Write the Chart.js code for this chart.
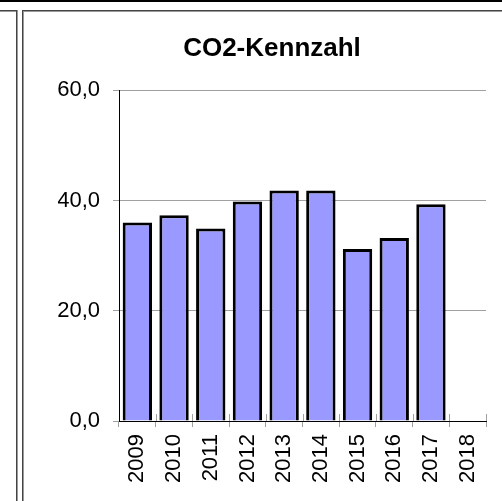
<!DOCTYPE html>
<html>
<head>
<meta charset="utf-8">
<script src="https://cdn.jsdelivr.net/npm/chart.js@4/dist/chart.umd.min.js"></script>
<style>
  html, body { margin: 0; padding: 0; background: #fff; overflow: hidden; width: 502px; height: 501px; }
  .ln { position: absolute; }
  #c { position: absolute; left: 24px; top: 12px; }
</style>
</head>
<body>
<!-- frame lines round the two panels -->
<div class="ln" style="left:0;top:0;width:502px;height:2px;background:#000"></div>
<div class="ln" style="left:0;top:10px;width:18px;height:1px;background:#444"></div>
<div class="ln" style="left:0;top:11px;width:17px;height:1px;background:#999"></div>
<div class="ln" style="left:16px;top:10px;width:1px;height:491px;background:#444"></div>
<div class="ln" style="left:17px;top:10px;width:1px;height:491px;background:#999"></div>
<div class="ln" style="left:22px;top:10px;width:480px;height:1px;background:#444"></div>
<div class="ln" style="left:23px;top:11px;width:479px;height:1px;background:#999"></div>
<div class="ln" style="left:22px;top:10px;width:1px;height:491px;background:#444"></div>
<div class="ln" style="left:23px;top:11px;width:1px;height:490px;background:#999"></div>
<canvas id="c" width="492" height="489"></canvas>
<script>
const years = ['2009', '2010', '2011', '2012', '2013', '2014', '2015', '2016', '2017', '2018']
const kennzahl = [36.0, 37.3, 34.9, 39.8, 41.8, 41.8, 31.2, 33.2, 39.3, null]
const yTicks = [0, 20, 40, 60]

const font = 'Liberation Sans, Arial, sans-serif'

// short marks above the x axis at the category borders
const crossTicks = {
  id: 'crossTicks',
  afterDatasetsDraw(chart) {
    const x = chart.scales.x
    const ctx = chart.ctx
    const n = years.length
    ctx.save()
    ctx.strokeStyle = '#a0a0a0'
    ctx.lineWidth = 1
    for (let i = 1; i <= n; i++) {
      const px = Math.round(x.left + i * x.width / n) + 0.5
      ctx.beginPath()
      ctx.moveTo(px, x.top - 7)
      ctx.lineTo(px, x.top)
      ctx.stroke()
    }
    ctx.restore()
  }
}

new Chart(document.getElementById('c'), {
  type: 'bar',
  data: {
    labels: years,
    datasets: [{
      data: kennzahl,
      backgroundColor: '#9999ff',
      borderColor: '#000',
      borderWidth: 3,
      barPercentage: 1.0,
      categoryPercentage: 0.8
    }]
  },
  options: {
    responsive: false,
    animation: false,
    devicePixelRatio: 1,
    layout: { padding: { left: 34, right: 30, top: 0, bottom: 11 } },
    plugins: {
      legend: { display: false },
      tooltip: { enabled: false },
      title: {
        display: true,
        text: 'CO2-Kennzahl',
        color: '#000',
        font: { family: font, size: 26, weight: 'bold', lineHeight: 1.2 },
        padding: { top: 21, bottom: 26 }
      }
    },
    scales: {
      x: {
        grid: { drawOnChartArea: false, color: '#a0a0a0', tickLength: 6 },
        border: { color: '#000', width: 1 },
        ticks: {
          color: '#000',
          font: { family: font, size: 22 },
          minRotation: 90,
          maxRotation: 90,
          padding: 7,
          autoSkip: false
        }
      },
      y: {
        min: yTicks[0],
        max: yTicks[yTicks.length - 1],
        afterBuildTicks: s => { s.ticks = yTicks.map(v => ({ value: v })) },
        afterFit: s => { s.width = 61 },
        grid: { color: '#a0a0a0', tickLength: 6 },
        border: { color: '#000', width: 1 },
        ticks: {
          color: '#000',
          font: { family: font, size: 22 },
          padding: 13,
          callback: v => v.toFixed(1).replace('.', ',')
        }
      }
    }
  },
  plugins: [crossTicks]
})
</script>
</body>
</html>
